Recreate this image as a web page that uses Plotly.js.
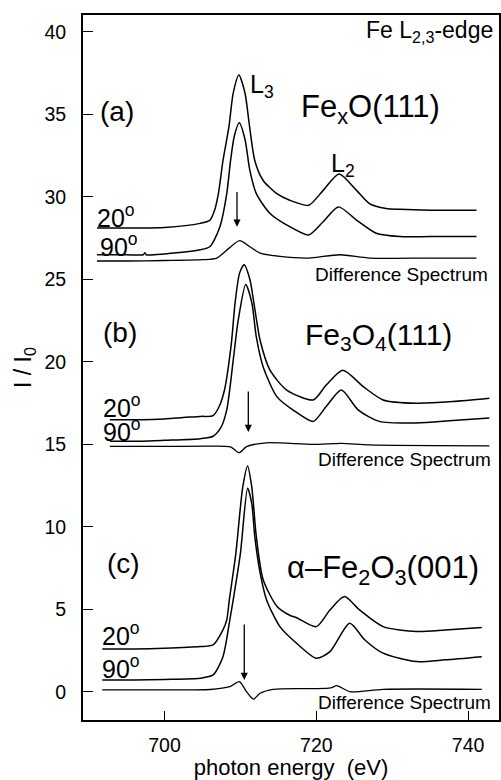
<!DOCTYPE html>
<html>
<head>
<meta charset="utf-8">
<script src="https://cdn.plot.ly/plotly-3.0.1.min.js"></script>
<style>html,body{margin:0;padding:0;background:#fff;}#chart{width:501px;height:780px;}</style>
</head>
<body>
<div id="chart"></div>
<script>
// ---- data ----
// (a) FexO(111)
const a20_E = [691.1, 695, 700, 704.7, 706.0, 706.6, 707.1, 707.7, 708.5, 709.05, 709.8, 710.6, 711.2, 711.9, 713.0, 714.8, 716.5, 719.0, 720.9, 723.0, 725.3, 727.0, 729.2, 731, 735, 741.1];
const a20_I = [28.12, 28.12, 28.15, 28.4, 28.6, 29.2, 30.2, 32.2, 34.3, 36.3, 37.4, 36.3, 34.3, 32.2, 31.0, 30.2, 29.8, 29.5, 30.4, 31.4, 30.4, 29.6, 29.3, 29.25, 29.2, 29.2];
const a90_E = [691.1, 695, 697.2, 697.4, 697.6, 700, 704.7, 706.0, 707.3, 708.2, 708.7, 709.2, 709.85, 710.6, 711.25, 712.1, 713.9, 716.5, 719.0, 720.9, 722.9, 725.3, 727.9, 731, 735, 741.1];
const a90_I = [26.5, 26.5, 26.5, 26.62, 26.5, 26.55, 26.8, 27.0, 28.2, 30.2, 32.2, 33.7, 34.5, 33.5, 31.6, 30.2, 29.0, 28.2, 27.7, 28.5, 29.4, 28.6, 27.8, 27.6, 27.6, 27.6];
const aD_E = [691.1, 695, 700, 705, 706.9, 708.5, 709.9, 711.2, 712.6, 715.2, 719, 723.1, 727, 735, 741.1];
const aD_I = [26.12, 26.12, 26.15, 26.2, 26.3, 26.9, 27.35, 27.0, 26.6, 26.4, 26.3, 26.5, 26.3, 26.3, 26.3];
// (b) Fe3O4(111)
const b20_E = [692.8, 697, 700, 704.7, 706.4, 707.2, 707.9, 708.8, 709.3, 709.9, 710.5, 711.25, 711.9, 712.6, 713.9, 716.1, 719.6, 721.3, 723.5, 726.2, 728.8, 733.2, 738, 742.8];
const b20_I = [16.5, 16.5, 16.55, 16.7, 16.75, 17.3, 18.3, 21.1, 23.6, 25.4, 25.9, 25.0, 23.2, 21.3, 19.5, 18.3, 17.7, 18.6, 19.5, 18.5, 17.7, 17.5, 17.6, 17.8];
const b90_E = [692.8, 697, 700, 704.7, 706.4, 707.4, 708.2, 709.05, 709.7, 710.7, 711.5, 712.1, 713.0, 714.8, 716.9, 719.6, 721.3, 723.3, 725.5, 728.3, 733.2, 738, 742.8];
const b90_I = [15.2, 15.2, 15.25, 15.35, 15.5, 16.0, 17.1, 20.1, 22.5, 24.7, 23.6, 21.5, 19.7, 17.9, 17.1, 16.4, 17.3, 18.3, 17.1, 16.4, 16.3, 16.45, 16.6];
const bD_E = [692.8, 700, 706, 708.7, 709.85, 710.8, 713.4, 719.6, 723.3, 727, 742.8];
const bD_I = [14.88, 14.88, 14.9, 14.85, 14.5, 14.87, 15.1, 15.0, 15.07, 14.97, 14.92];
// (c) alpha-Fe2O3(001)
const c20_E = [691.8, 696, 700, 704.7, 706.4, 707.7, 708.2, 708.54, 709.4, 710.3, 710.95, 711.5, 712.1, 713.0, 714.8, 716.5, 717.4, 720.0, 721.8, 723.7, 725.7, 728.8, 733.2, 737, 741.8];
const c20_I = [2.6, 2.6, 2.65, 2.75, 2.85, 3.76, 4.36, 5.58, 8.4, 12.4, 13.7, 12.4, 9.4, 6.8, 5.2, 4.65, 4.5, 3.96, 4.97, 5.78, 4.97, 3.96, 3.66, 3.75, 3.9];
const c90_E = [691.8, 696, 700, 704.7, 706.4, 707.7, 708.6, 709.05, 710.0, 710.95, 711.5, 711.9, 712.6, 713.45, 715.2, 717.4, 720.0, 721.8, 724.4, 726.4, 728.8, 733.2, 737, 741.8];
const c90_I = [0.73, 0.73, 0.76, 0.83, 1.03, 2.14, 4.36, 5.58, 8.4, 12.35, 11.4, 9.4, 7.2, 5.58, 3.96, 2.95, 2.04, 2.44, 4.16, 3.15, 2.35, 1.84, 1.95, 2.14];
const cD_E = [691.8, 700, 706, 708.6, 709.85, 710.8, 711.7, 712.6, 714.3, 719.5, 721.9, 722.7, 724.4, 728.8, 741.8];
const cD_I = [0.12, 0.12, 0.15, 0.32, 0.62, 0.02, -0.44, -0.08, 0.16, 0.2, 0.25, 0.38, 0.02, 0.16, 0.16];

const xTicks = [700, 720, 740];
const yTicks = [0, 5, 10, 15, 20, 25, 30, 35, 40];
const angleLabels = ['20<sup>o</sup>', '90<sup>o</sup>'];
const panelLabels = ['(a)', '(b)', '(c)'];
const sampleLabels = ['Fe<sub>x</sub>O(111)', 'Fe<sub>3</sub>O<sub>4</sub>(111)', 'α–Fe<sub>2</sub>O<sub>3</sub>(001)'];
const diffLabel = 'Difference Spectrum';
// arrows: [energy, tail intensity, tip intensity]
const arrowsE = [709.55, 711.04, 710.51];
const arrowsTail = [30.4, 18.3, 4.18];
const arrowsTip = [28.2, 15.76, 0.73];

// ---- layout helpers (pixel -> paper) ----
const W = 501, H = 780, ML = 83, MR = 2, MT = 15, MB = 60;
const PW = W - ML - MR, PH = H - MT - MB;
const PX = x => (x - ML) / PW;
const PY = y => (H - MB - y) / PH;
const FONT = 'Liberation Sans, Arial, Helvetica, sans-serif';

function tr(E, I, w) {
  return {x: E, y: I, type: 'scatter', mode: 'lines',
    line: {color: '#000', width: w || 1.5, shape: 'spline', smoothing: 0.7},
    hoverinfo: 'skip'};
}
const data = [
  tr(a20_E, a20_I), tr(a90_E, a90_I), tr(aD_E, aD_I, 1.3),
  tr(b20_E, b20_I), tr(b90_E, b90_I), tr(bD_E, bD_I, 1.3),
  tr(c20_E, c20_I), tr(c90_E, c90_I), tr(cD_E, cD_I, 1.3)
];

function txt(text, x, y, size, xa, ya) {
  return {text: text, xref: 'paper', yref: 'paper', x: PX(x), y: PY(y),
    xanchor: xa || 'left', yanchor: ya || 'middle', showarrow: false,
    font: {family: FONT, size: size, color: '#000'}};
}
const ann = [
  txt('Fe L<sub>2,3</sub>-edge', 495, 31, 23, 'right'),
  txt(panelLabels[0], 98, 112, 28),
  txt(panelLabels[1], 101, 332, 28),
  txt(panelLabels[2], 105, 563, 28),
  txt(sampleLabels[0], 370, 109, 31, 'center'),
  txt(sampleLabels[1], 378, 336, 30, 'center'),
  txt(sampleLabels[2], 383, 570, 31, 'center'),
  txt('L<sub>3</sub>', 248, 86, 25),
  txt('L<sub>2</sub>', 329, 165, 25),
  txt(angleLabels[0], 95, 216, 25),
  txt(angleLabels[1], 98, 245, 25),
  txt(angleLabels[0], 101, 406, 25),
  txt(angleLabels[1], 101, 430, 25),
  txt(angleLabels[0], 100, 634, 25),
  txt(angleLabels[1], 100, 667, 25),
  txt(diffLabel, 401, 274, 19, 'center'),
  txt(diffLabel, 404, 459, 19, 'center'),
  txt(diffLabel, 404, 702, 19, 'center')
];
for (let i = 0; i < 3; i++) {
  ann.push({x: arrowsE[i], y: arrowsTip[i], ax: arrowsE[i], ay: arrowsTail[i],
    xref: 'x', yref: 'y', axref: 'x', ayref: 'y', text: '', showarrow: true,
    arrowhead: 2, arrowsize: 1.1, arrowwidth: 1.3, arrowcolor: '#000', standoff: 0});
}

const layout = {
  width: W, height: H,
  margin: {l: ML, r: MR, t: MT, b: MB},
  paper_bgcolor: '#fff', plot_bgcolor: '#fff',
  showlegend: false,
  font: {family: FONT, color: '#000'},
  xaxis: {range: [689.26, 744.07], tickvals: xTicks, ticks: 'inside', ticklen: 9, tickwidth: 1,
    tickcolor: '#000', showline: true, linewidth: 2, linecolor: '#000', mirror: true,
    showgrid: false, zeroline: false, tickfont: {size: 19.5, family: FONT},
    ticklabelstandoff: 7,
    title: {text: 'photon energy\u00a0 (eV)', font: {size: 22, family: FONT}, standoff: 6}},
  yaxis: {range: [-1.70, 41.03], tickvals: yTicks, ticks: 'inside', ticklen: 10, tickwidth: 1,
    tickcolor: '#000', showline: true, linewidth: 2, linecolor: '#000', mirror: true,
    showgrid: false, zeroline: false, tickfont: {size: 19.5, family: FONT},
    ticklabelstandoff: 11,
    title: {text: 'I / I<sub>0</sub>', font: {size: 23, family: FONT}, standoff: 6}},
  annotations: ann
};
Plotly.newPlot('chart', data, layout, {staticPlot: true, displayModeBar: false});
</script>
</body>
</html>
